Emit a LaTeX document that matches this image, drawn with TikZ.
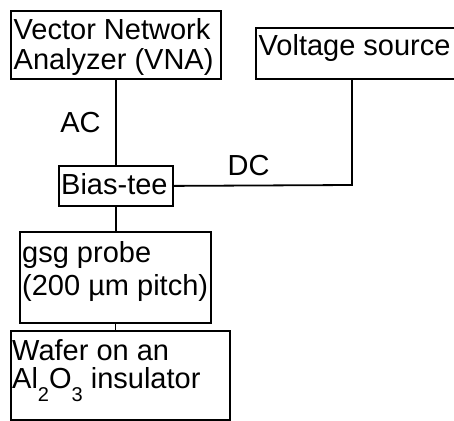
\documentclass[tikz,border=0pt]{standalone}
\usepackage{fontspec}
\setmainfont{Liberation Sans}
\usetikzlibrary{calc,positioning}

\begin{document}
\begin{tikzpicture}[x=1pt,y=-1pt,
  box/.style={draw, line width=1.8pt, inner sep=0pt, anchor=north west},
  txt/.style={font=\fontsize{29}{30}\selectfont, align=left, inner sep=0pt, anchor=north west},
  wire/.style={line width=1.8pt}]
  \useasboundingbox (0,0) rectangle (454,420);
  % boxes
  \node[box, minimum width=210, minimum height=68](vna) at (10,10){};
  \node[box, minimum width=210, minimum height=51](volt) at (255,27){};
  \node[box, minimum width=114, minimum height=40](bias) at (58,165){};
  \node[box, minimum width=191, minimum height=91](gsg) at (19,231){};
  \node[box, minimum width=219, minimum height=89](wafer) at (10,330){};
  % texts
  \node[txt](vnatxt) at ($(vna.north west)+(3.5,8.5)$){Vector Network\\Analyzer (VNA)};
  \node[txt](volttxt) at ($(volt.north west)+(3.5,7.5)$){Voltage source};
  \node[txt](biastxt) at ($(bias.north west)+(3,8)$){Bias-tee};
  \node[txt](gsgtxt) at ($(gsg.north west)+(3,10)$){gsg probe\\[3pt](200 µm pitch)};
  \node[txt](wafertxt) at ($(wafer.north west)+(2,9)$){Wafer on an\\[-2pt]Al\raisebox{-13pt}{\fontsize{20}{20}\selectfont 2}O\raisebox{-13pt}{\fontsize{20}{20}\selectfont 3} insulator};
  % wires
  \coordinate (corner) at (352,185);
  \draw[wire](vna.south)--(bias.north)node[midway, left=11pt, font=\fontsize{29}{30}\selectfont](ac){AC};
  \draw[wire](bias.east)--(corner)--(corner |- volt.south);
  \node[font=\fontsize{29}{30}\selectfont, above=6pt of $(bias.east)!0.42!(corner)$](dc){DC};
  \draw[wire](bias.south)--(bias.south |- gsg.north);
  \draw[wire](gsg.south)--(gsg.south |- wafer.north);
\end{tikzpicture}
\end{document}
